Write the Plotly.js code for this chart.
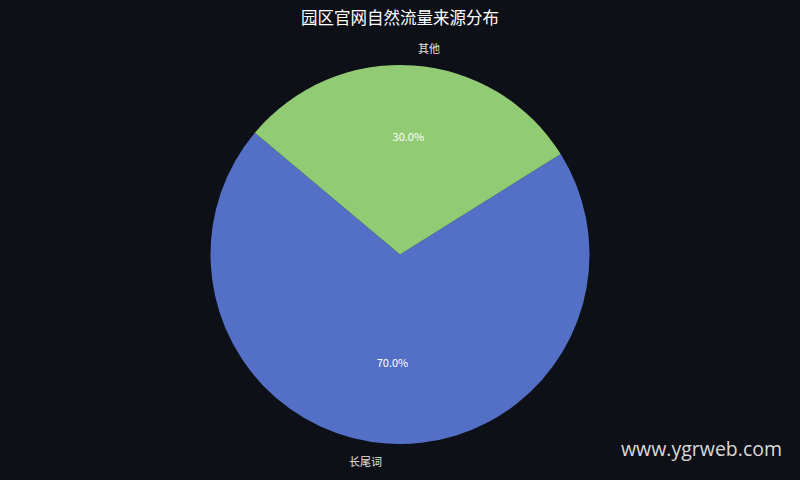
<!DOCTYPE html>
<html>
<head>
<meta charset="utf-8">
<script src="https://cdn.plot.ly/plotly-3.0.1.min.js"></script>
<style>
  html, body { margin: 0; padding: 0; background: #0d1017; }
  #chart { width: 800px; height: 480px; }
</style>
</head>
<body>
<div id="chart"></div>
<script>
// 流量来源
const labels = ['长尾词', '其他'];
const values = [70, 30];
const colors = ['#5470c6', '#91cc75'];

const FONT = '"Noto Sans CJK SC", "Noto Sans", sans-serif';
const BG = '#0d1017';
const CLEAR = ['rgba(0,0,0,0)', 'rgba(0,0,0,0)'];

// shared pie settings
const base = {
  type: 'pie',
  labels,
  values,
  sort: false,
  direction: 'clockwise',
  rotation: 58,
  showlegend: false
};

// main slices
const slices = {
  ...base,
  domain: { x: [0, 1], y: [0.0683, 0.9317] },
  marker: { colors, line: { width: 0 } },
  textinfo: 'none',
  hoverinfo: 'label+percent'
};

// larger transparent pie so the inside percentages sit further out
const pctLayer = {
  ...base,
  domain: { x: [0, 1], y: [0.01025, 0.98975] },
  marker: { colors: CLEAR, line: { width: 0 } },
  texttemplate: '%{percent:.1%}',
  textposition: 'inside',
  insidetextorientation: 'horizontal',
  textfont: { family: FONT, size: 11, color: '#ffffff' },
  hoverinfo: 'skip'
};

// slightly larger transparent pie carrying the category labels
const labelLayer = {
  ...base,
  domain: { x: [0, 1], y: [0.0456, 0.9544] },
  marker: { colors: CLEAR, line: { width: 0 } },
  texttemplate: '%{label}',
  textposition: 'outside',
  textfont: { family: FONT, size: 11, color: '#e6e6e6' },
  hoverinfo: 'skip'
};

const layout = {
  width: 800,
  height: 480,
  paper_bgcolor: BG,
  plot_bgcolor: BG,
  margin: { t: 35, r: 0, b: 6, l: 0 },
  showlegend: false,
  font: { family: FONT, color: '#ffffff' },
  title: {
    text: '园区官网自然流量来源分布',
    font: { family: FONT, size: 16.5, color: '#ffffff' },
    x: 0.5,
    xanchor: 'center',
    y: 0.962,
    yanchor: 'middle'
  },
  annotations: [{
    text: 'www.ygrweb.com',
    xref: 'paper', yref: 'paper',
    x: 1, y: 0,
    xanchor: 'right', yanchor: 'middle',
    xshift: -16, yshift: 26,
    showarrow: false,
    font: { family: '"Open Sans", sans-serif', size: 19.5, color: '#d9d9d9' }
  }]
};

Plotly.newPlot('chart', [slices, pctLayer, labelLayer], layout, { displayModeBar: false, staticPlot: true });
</script>
</body>
</html>
